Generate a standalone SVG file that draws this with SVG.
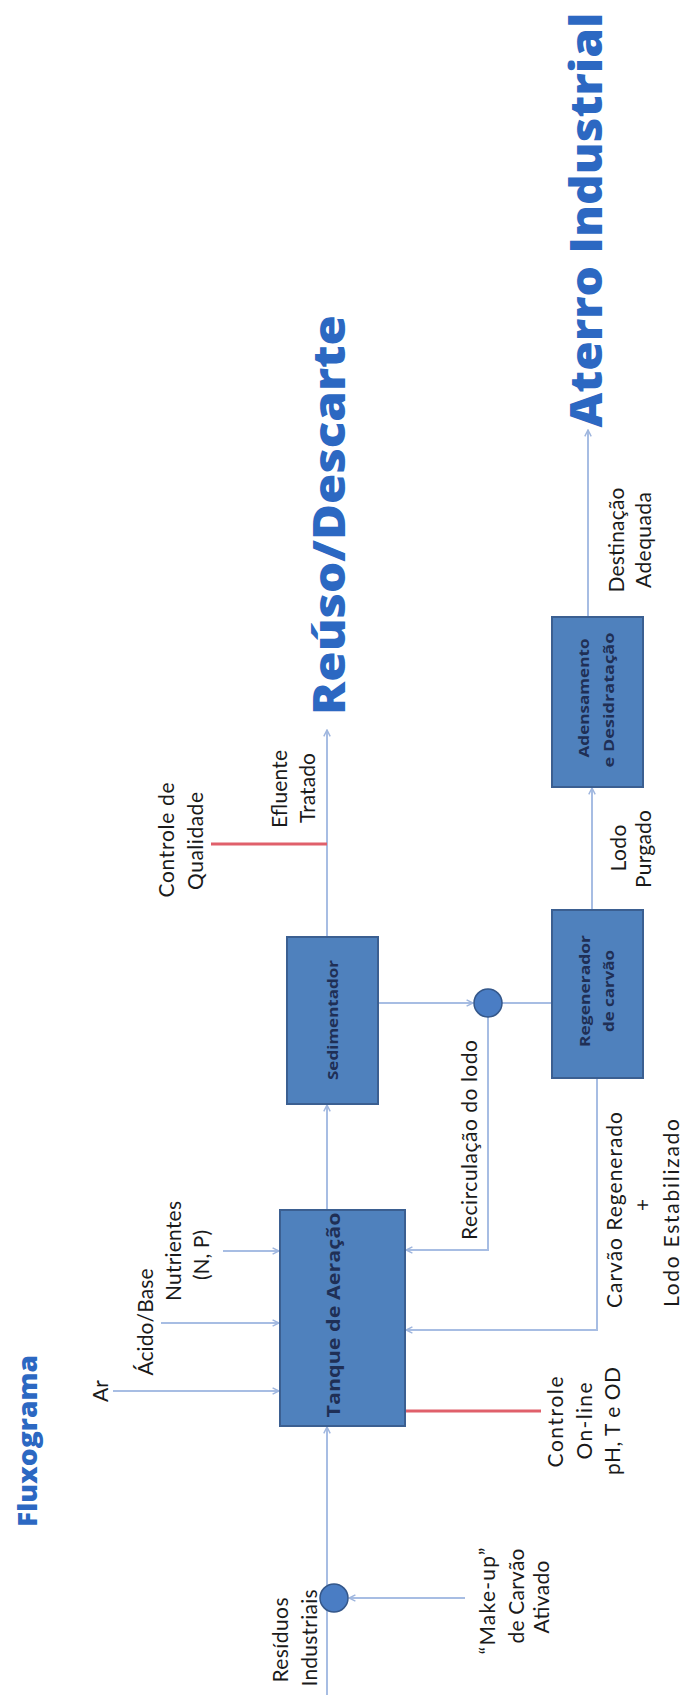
<svg xmlns="http://www.w3.org/2000/svg" width="684" height="1695" viewBox="0 0 684 1695">
<defs>
<marker id="arr" viewBox="0 0 10 10" refX="9" refY="5" markerWidth="8" markerHeight="8" markerUnits="userSpaceOnUse" orient="auto"><path d="M1,1 L9,5 L1,9" fill="none" stroke="#9FB6DE" stroke-width="1.8"/></marker>
</defs>
<style>
.box{fill:#4F81BD;stroke:#3B5F91;stroke-width:2}
.dot{fill:#4A7DC4;stroke:#34578A;stroke-width:1.5}
.ln{fill:none;stroke:#A7BDE3;stroke-width:2}
.red{fill:none;stroke:#E0606B;stroke-width:3}
.lbl{font-family:Lato,"Liberation Sans",sans-serif;font-size:21px;fill:#1a1a1a;text-anchor:middle}
.bx{font-family:"Open Sans","DejaVu Sans",sans-serif;font-weight:bold;fill:#1F2F55;text-anchor:middle}
.ttl{font-family:"Open Sans","DejaVu Sans",sans-serif;font-weight:800;fill:#2C68C2;text-anchor:middle}
</style>
<rect width="684" height="1695" fill="#fff"/>

<g id="titles">
<text class="ttl" x="37" y="1441" font-size="26" textLength="172" lengthAdjust="spacingAndGlyphs" transform="rotate(-90 37 1441)">Fluxograma</text>
<text class="ttl" x="345" y="515" font-size="45" textLength="400" lengthAdjust="spacingAndGlyphs" transform="rotate(-90 345 515)">Reúso/Descarte</text>
<text class="ttl" x="602" y="220" font-size="45" textLength="415" lengthAdjust="spacingAndGlyphs" transform="rotate(-90 602 220)">Aterro Industrial</text>
</g>

<g id="connectors">
<line class="ln" x1="327" y1="1695" x2="327" y2="1427" marker-end="url(#arr)"/>
<line class="ln" x1="465" y1="1598" x2="349" y2="1598" marker-end="url(#arr)"/>
<line class="ln" x1="113" y1="1391" x2="279" y2="1391" marker-end="url(#arr)"/>
<line class="ln" x1="161" y1="1323" x2="279" y2="1323" marker-end="url(#arr)"/>
<line class="ln" x1="223" y1="1251" x2="279" y2="1251" marker-end="url(#arr)"/>
<line class="ln" x1="327" y1="1210" x2="327" y2="1105" marker-end="url(#arr)"/>
<line class="ln" x1="327" y1="937" x2="327" y2="730" marker-end="url(#arr)"/>
<line class="ln" x1="378" y1="1003" x2="473" y2="1003" marker-end="url(#arr)"/>
<line class="ln" x1="502" y1="1003" x2="551" y2="1003"/>
<polyline class="ln" points="488,1017 488,1250 406,1250" marker-end="url(#arr)"/>
<polyline class="ln" points="597,1078 597,1330 406,1330" marker-end="url(#arr)"/>
<line class="ln" x1="592" y1="910" x2="592" y2="788" marker-end="url(#arr)"/>
<line class="ln" x1="588" y1="617" x2="588" y2="430" marker-end="url(#arr)"/>
<line class="red" x1="211" y1="844" x2="327" y2="844"/>
<line class="red" x1="405" y1="1411" x2="541" y2="1411"/>
</g>

<g id="tanque">
<rect class="box" x="280" y="1210" width="125" height="216"/>
<text class="bx" x="340" y="1315" font-size="17" textLength="205" lengthAdjust="spacingAndGlyphs" transform="rotate(-90 340 1315)">Tanque de Aeração</text>
</g>
<g id="sedimentador">
<rect class="box" x="287" y="937" width="91" height="167"/>
<text class="bx" x="338" y="1020" font-size="15" textLength="120" lengthAdjust="spacingAndGlyphs" transform="rotate(-90 338 1020)">Sedimentador</text>
</g>
<g id="regenerador">
<rect class="box" x="552" y="910" width="91" height="168"/>
<text class="bx" x="590" y="991" font-size="14.5" textLength="112" lengthAdjust="spacingAndGlyphs" transform="rotate(-90 590 991)">Regenerador</text>
<text class="bx" x="614" y="991" font-size="14.5" textLength="82" lengthAdjust="spacingAndGlyphs" transform="rotate(-90 614 991)">de carvão</text>
</g>
<g id="adensamento">
<rect class="box" x="552" y="617" width="91" height="170"/>
<text class="bx" x="589" y="698" font-size="13.5" textLength="119" lengthAdjust="spacingAndGlyphs" transform="rotate(-90 589 698)">Adensamento</text>
<text class="bx" x="614" y="700" font-size="13.5" textLength="135" lengthAdjust="spacingAndGlyphs" transform="rotate(-90 614 700)">e Desidratação</text>
</g>
<g id="juncao-entrada">
<circle class="dot" cx="334" cy="1598" r="14"/>
</g>
<g id="juncao-lodo">
<circle class="dot" cx="488" cy="1003" r="14"/>
</g>

<g id="labels">
<text class="lbl" x="108" y="1391" transform="rotate(-90 108 1391)">Ar</text>
<text class="lbl" x="153" y="1322" textLength="107" transform="rotate(-90 153 1322)">Ácido/Base</text>
<text class="lbl" x="181" y="1251" textLength="100" transform="rotate(-90 181 1251)">Nutrientes</text>
<text class="lbl" x="209" y="1255" textLength="50" transform="rotate(-90 209 1255)">(N, P)</text>
<text class="lbl" x="495" y="1601" textLength="107" transform="rotate(-90 495 1601)">“Make-up”</text>
<text class="lbl" x="524" y="1596" textLength="95" transform="rotate(-90 524 1596)">de Carvão</text>
<text class="lbl" x="549" y="1597" textLength="73" transform="rotate(-90 549 1597)">Ativado</text>
<text class="lbl" x="288" y="1640" textLength="85" transform="rotate(-90 288 1640)">Resíduos</text>
<text class="lbl" x="317" y="1638" textLength="97" transform="rotate(-90 317 1638)">Industriais</text>
<text class="lbl" x="563" y="1422" textLength="91" transform="rotate(-90 563 1422)">Controle</text>
<text class="lbl" x="592" y="1421" textLength="77" transform="rotate(-90 592 1421)">On-line</text>
<text class="lbl" x="620" y="1421" textLength="108" transform="rotate(-90 620 1421)">pH, T e OD</text>
<text class="lbl" x="477" y="1140" textLength="200" transform="rotate(-90 477 1140)">Recirculação do lodo</text>
<text class="lbl" x="622" y="1210" textLength="196" transform="rotate(-90 622 1210)">Carvão Regenerado</text>
<text class="lbl" x="650" y="1205" transform="rotate(-90 650 1205)">+</text>
<text class="lbl" x="679" y="1213" textLength="188" transform="rotate(-90 679 1213)">Lodo Estabilizado</text>
<text class="lbl" x="174" y="840" textLength="115" transform="rotate(-90 174 840)">Controle de</text>
<text class="lbl" x="203" y="841" textLength="98" transform="rotate(-90 203 841)">Qualidade</text>
<text class="lbl" x="287" y="789" textLength="78" transform="rotate(-90 287 789)">Efluente</text>
<text class="lbl" x="315" y="788" textLength="70" transform="rotate(-90 315 788)">Tratado</text>
<text class="lbl" x="626" y="848" textLength="47" transform="rotate(-90 626 848)">Lodo</text>
<text class="lbl" x="651" y="849" textLength="78" transform="rotate(-90 651 849)">Purgado</text>
<text class="lbl" x="624" y="540" textLength="105" transform="rotate(-90 624 540)">Destinação</text>
<text class="lbl" x="651" y="540" textLength="96" transform="rotate(-90 651 540)">Adequada</text>
</g>
</svg>
